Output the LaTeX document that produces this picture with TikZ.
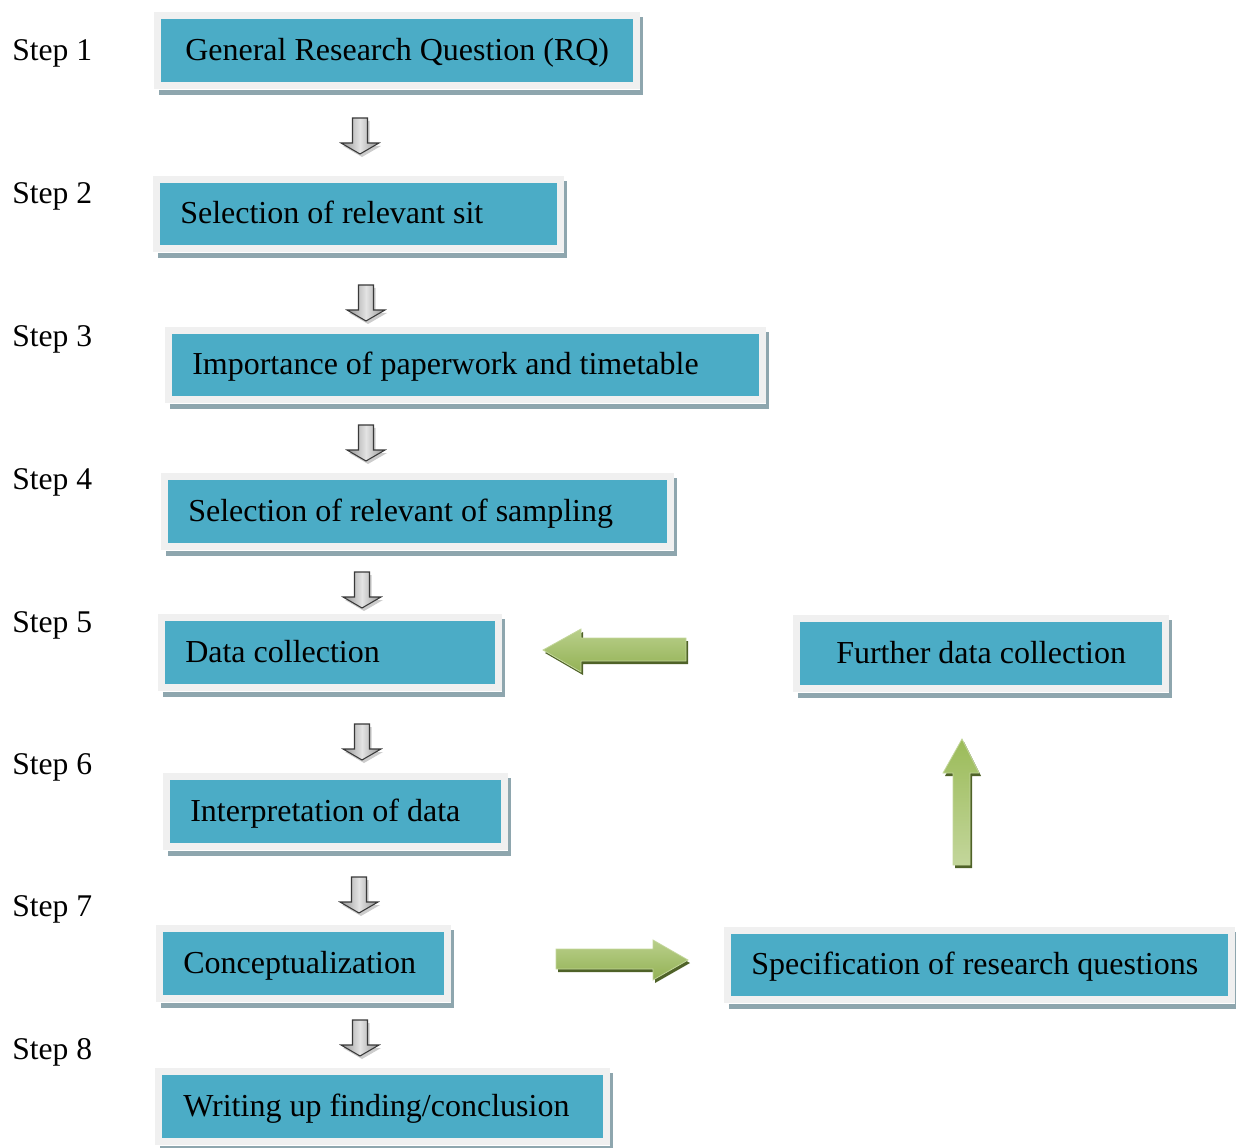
\documentclass[tikz,border=0pt]{standalone}
\usepackage{fontspec}
\setmainfont{Liberation Serif}
\usetikzlibrary{calc}
\definecolor{boxteal}{HTML}{4BACC6}
\definecolor{boxframe}{HTML}{F0F0F0}
\definecolor{boxshadow}{RGB}{142,166,174}
\definecolor{greenmain}{HTML}{9BBB59}
\definecolor{greenlight}{HTML}{C3D69B}
\definecolor{greendark}{HTML}{4F6228}
\tikzset{
  inbox/.style={fill=boxteal, inner sep=0pt},
  boxtext/.style={font=\fontsize{24pt}{28pt}\selectfont, inner sep=0pt, text height=0.68em, text depth=0.22em},
  steplbl/.style={font=\fontsize{23.7pt}{28pt}\selectfont, inner sep=0pt},
  grayarrow/.pic={
    \fill[gray!40, shift={(2,3)}] (-7.5,0) -- (7.5,0) -- (7.5,25) -- (19,25) -- (0,36) -- (-19,25) -- (-7.5,25) -- cycle;
    \draw[draw=gray!45!black, line width=0.8pt, left color=gray!85, right color=gray!85, middle color=gray!22]
      (-7.5,0) -- (7.5,0) -- (7.5,25) -- (19,25) -- (0,36) -- (-19,25) -- (-7.5,25) -- cycle;
  },
  greenshadow/.style={fill=greendark, shift={(2,3)}},
  greenbody/.style={draw=greenlight, line width=0.6pt}
}
% name, x1, y1, x2, y2 (inner box), left pad, text
\newcommand\flowbox[7]{%
  \fill[boxshadow] ({#2-7+5},{#3-7+5}) rectangle ({#4+7+3},{#5+7+6});
  \fill[white] ({#2-7+5},{#5+7}) rectangle ({#4+7},{#5+7+1.2});
  \fill[boxframe] ({#2-7},{#3-7}) rectangle ({#4+7},{#5+7});
  \node[inbox, minimum width={(#4-#2)*0.75pt}, minimum height={(#5-#3)*0.75pt}, anchor=north west] (#1) at (#2,#3) {};
  \node[boxtext, anchor=west] (#1-t) at ($(#1.west)+(#6,6.5)$) {#7};
}
\begin{document}
\begin{tikzpicture}[x=0.75pt, y=-0.75pt]
\useasboundingbox (0,0) rectangle (1236,1148);

% step labels
\node[steplbl, anchor=base west] (s1) at (12,61) {Step 1};
\node[steplbl, anchor=base west] (s2) at (12,204) {Step 2};
\node[steplbl, anchor=base west] (s3) at (12,347) {Step 3};
\node[steplbl, anchor=base west] (s4) at (12,489) {Step 4};
\node[steplbl, anchor=base west] (s5) at (12,632) {Step 5};
\node[steplbl, anchor=base west] (s6) at (12,774) {Step 6};
\node[steplbl, anchor=base west] (s7) at (12,916) {Step 7};
\node[steplbl, anchor=base west] (s8) at (12,1059) {Step 8};

% boxes
\flowbox{b1}{161}{19}{633}{82}{24}{General Research Question (RQ)}
\flowbox{b2}{160}{183}{557}{245}{20}{Selection of relevant sit}
\flowbox{b3}{172}{334}{759}{396}{20}{Importance of paperwork and timetable}
\flowbox{b4}{168}{480}{667}{543}{20}{Selection of relevant of sampling}
\flowbox{b5}{165}{621}{495}{684}{20}{Data collection}
\flowbox{b6}{170}{780}{501}{843}{20}{Interpretation of data}
\flowbox{b7}{163}{932}{444}{995}{20}{Conceptualization}
\flowbox{b8}{162}{1075}{603}{1138}{21}{Writing up finding/conclusion}
\flowbox{bf}{800}{622}{1162}{685}{36}{Further data collection}
\flowbox{bs}{731}{934}{1228}{996}{20}{Specification of research questions}

% gray down arrows
\pic (ga1) at (360,118) {grayarrow};
\pic (ga2) at (366,285) {grayarrow};
\pic (ga3) at (366,425) {grayarrow};
\pic (ga4) at (362,572) {grayarrow};
\pic (ga5) at (362,724) {grayarrow};
\pic (ga6) at (359,877) {grayarrow};
\pic (ga7) at (360,1020) {grayarrow};

% green arrow: further data collection -> data collection (left)
\fill[greenshadow] (543,650) -- (581,629) -- (581,638) -- (686,638) -- (686,661) -- (581,661) -- (581,672) -- cycle;
\draw[greenbody, top color=greenmain!70!white, bottom color=greenmain!95!black]
  (543,650) -- (581,629) -- (581,638) -- (686,638) -- (686,661) -- (581,661) -- (581,672) -- cycle;

% green arrow: up
\fill[greenshadow] (962,739) -- (979,773) -- (970,773) -- (970,865) -- (953,865) -- (953,773) -- (943,773) -- cycle;
\draw[greenbody, top color=greenmain, bottom color=greenlight]
  (962,739) -- (979,773) -- (970,773) -- (970,865) -- (953,865) -- (953,773) -- (943,773) -- cycle;

% green arrow: conceptualization -> specification (right)
\fill[greenshadow] (688,960) -- (653,940) -- (653,949) -- (556,949) -- (556,969) -- (653,969) -- (653,980) -- cycle;
\draw[greenbody, top color=greenmain!70!white, bottom color=greenmain!95!black]
  (688,960) -- (653,940) -- (653,949) -- (556,949) -- (556,969) -- (653,969) -- (653,980) -- cycle;
\end{tikzpicture}
\end{document}
